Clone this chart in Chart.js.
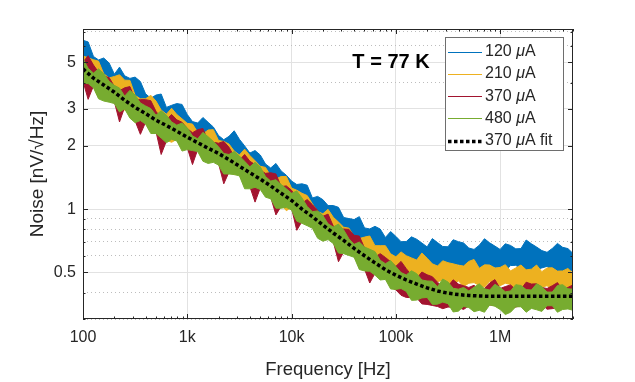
<!DOCTYPE html>
<html>
<head>
<meta charset="utf-8">
<script src="https://cdn.jsdelivr.net/npm/chart.js@4.4.1/dist/chart.umd.min.js"></script>
<style>
  html, body { margin: 0; padding: 0; background: #fff; }
  #wrap { width: 635px; height: 382px; }
</style>
</head>
<body>
<div id="wrap"><canvas id="noise" width="635" height="382"></canvas></div>
<script>
// Частоты спектров, Гц (примерно 20 точек на декаду)
const freq = [100, 112, 126, 141, 158, 178, 200, 224, 251, 282, 316, 355, 398, 447, 501, 562, 631, 708, 794, 891,
  1000, 1122, 1259, 1413, 1585, 1778, 1995, 2239, 2512, 2818, 3162, 3548, 3981, 4467, 5012, 5623, 6310, 7079, 7943, 8913,
  10000, 11220, 12589, 14125, 15849, 17783, 19953, 22387, 25119, 28184, 31623, 35481, 39811, 44668, 50119, 56234, 63096, 70795, 79433, 89125,
  100000, 112202, 125893, 141254, 158489, 177828, 199526, 223872, 251189, 281838, 316228, 354813, 398107, 446684, 501187, 562341, 630957, 707946, 794328, 891251,
  1000000, 1122018, 1258925, 1412538, 1584893, 1778279, 1995262, 2238721, 2511886, 2818383, 3162278, 3548134, 3981072, 4466836, 5000000];

// Шум, nV/√Hz — верхняя и нижняя граница полосы каждого спектра
const blue120Hi = [6.36, 6.25, 5.33, 5.13, 5.24, 4.96, 4.39, 4.74, 4.31, 4.19, 4.25, 4.05, 3.54, 3.37, 3.49, 3.53, 3.05, 3.12, 3.18, 3.15,
  2.82, 2.61, 2.57, 2.73, 2.59, 2.46, 2.24, 2.14, 2.22, 2.36, 2.15, 2.0, 1.85, 1.90, 1.81, 1.64, 1.57, 1.65, 1.52, 1.45,
  1.36, 1.31, 1.32, 1.30, 1.13, 1.15, 1.11, 1.04, 1.04, 1.02, 0.912, 0.902, 0.892, 0.921, 0.814, 0.805, 0.828, 0.804, 0.733, 0.782,
  0.742, 0.700, 0.701, 0.738, 0.719, 0.690, 0.661, 0.724, 0.693, 0.664, 0.662, 0.715, 0.700, 0.690, 0.653, 0.643, 0.673, 0.723, 0.691, 0.667,
  0.643, 0.684, 0.672, 0.647, 0.649, 0.713, 0.684, 0.660, 0.635, 0.623, 0.650, 0.687, 0.658, 0.649, 0.615];
const blue120Lo = [4.47, 4.06, 4.16, 4.03, 3.67, 3.51, 3.64, 3.15, 3.20, 3.11, 2.90, 2.79, 2.85, 2.81, 2.55, 2.34, 2.48, 2.35, 2.21, 2.08,
  2.16, 2.19, 2.09, 1.85, 1.85, 1.80, 1.82, 1.81, 1.67, 1.47, 1.50, 1.50, 1.49, 1.35, 1.33, 1.34, 1.28, 1.12, 1.13, 1.10,
  1.09, 1.05, 0.960, 0.883, 0.918, 0.839, 0.812, 0.825, 0.789, 0.737, 0.762, 0.722, 0.681, 0.626, 0.666, 0.652, 0.613, 0.597, 0.618, 0.562,
  0.578, 0.593, 0.573, 0.533, 0.538, 0.551, 0.563, 0.510, 0.534, 0.541, 0.526, 0.509, 0.545, 0.526, 0.529, 0.539, 0.518, 0.496, 0.538, 0.529,
  0.520, 0.508, 0.539, 0.540, 0.520, 0.478, 0.507, 0.516, 0.525, 0.534, 0.511, 0.481, 0.502, 0.498, 0.514];

const yellow210Hi = [5.36, 5.25, 5.14, 5.06, 4.41, 4.21, 4.28, 4.36, 4.11, 4.10, 3.48, 3.35, 3.35, 3.48, 3.27, 2.96, 2.83, 3.02, 2.82, 2.69,
  2.56, 2.54, 2.32, 2.28, 2.38, 2.39, 2.12, 2.10, 2.04, 1.89, 1.81, 1.93, 1.80, 1.70, 1.60, 1.58, 1.44, 1.39, 1.43, 1.43,
  1.26, 1.23, 1.19, 1.16, 1.06, 0.975, 0.950, 0.998, 0.915, 0.868, 0.820, 0.812, 0.742, 0.724, 0.736, 0.745, 0.670, 0.670, 0.670, 0.613,
  0.593, 0.626, 0.600, 0.586, 0.572, 0.618, 0.584, 0.549, 0.536, 0.568, 0.556, 0.549, 0.541, 0.536, 0.564, 0.576, 0.523, 0.543, 0.542, 0.524,
  0.528, 0.544, 0.508, 0.525, 0.542, 0.514, 0.518, 0.542, 0.504, 0.525, 0.526, 0.507, 0.508, 0.522, 0.495];
const yellow210Lo = [4.13, 4.07, 3.85, 3.39, 3.36, 3.37, 3.37, 2.94, 2.96, 2.89, 2.66, 2.54, 2.64, 2.35, 2.36, 2.29, 2.13, 2.08, 2.15, 1.92,
  1.98, 1.96, 1.94, 1.73, 1.70, 1.74, 1.67, 1.50, 1.53, 1.46, 1.48, 1.41, 1.28, 1.19, 1.27, 1.19, 1.16, 1.14, 1.05, 0.983,
  1.02, 0.916, 0.889, 0.883, 0.843, 0.740, 0.732, 0.727, 0.721, 0.685, 0.692, 0.607, 0.613, 0.615, 0.592, 0.542, 0.537, 0.538, 0.538, 0.486,
  0.495, 0.503, 0.491, 0.458, 0.463, 0.471, 0.478, 0.437, 0.452, 0.458, 0.437, 0.433, 0.456, 0.428, 0.444, 0.447, 0.433, 0.425, 0.452, 0.438,
  0.432, 0.444, 0.438, 0.407, 0.418, 0.432, 0.437, 0.414, 0.425, 0.432, 0.414, 0.410, 0.432, 0.401, 0.413];

const red370Hi = [5.01, 5.37, 4.85, 4.48, 4.29, 4.23, 3.84, 3.66, 3.78, 3.83, 3.32, 3.32, 3.32, 3.28, 2.92, 2.71, 2.67, 2.82, 2.66, 2.59,
  2.42, 2.31, 2.39, 2.42, 2.10, 2.08, 2.06, 2.10, 1.97, 1.78, 1.71, 1.82, 1.69, 1.63, 1.53, 1.48, 1.49, 1.47, 1.28, 1.29,
  1.23, 1.12, 1.07, 1.11, 1.05, 0.987, 0.924, 0.947, 0.830, 0.801, 0.804, 0.801, 0.751, 0.744, 0.653, 0.604, 0.592, 0.614, 0.589, 0.562,
  0.534, 0.564, 0.521, 0.485, 0.469, 0.502, 0.487, 0.477, 0.449, 0.426, 0.429, 0.461, 0.440, 0.432, 0.424, 0.434, 0.411, 0.419, 0.445, 0.462,
  0.419, 0.428, 0.436, 0.413, 0.415, 0.449, 0.440, 0.441, 0.424, 0.419, 0.432, 0.447, 0.411, 0.424, 0.436];
const red370Lo = [4.06, 3.33, 3.86, 3.42, 3.34, 3.29, 3.24, 2.60, 3.06, 2.76, 2.63, 2.27, 2.59, 2.34, 2.34, 1.82, 2.11, 2.19, 2.15, 1.93,
  1.96, 1.63, 1.92, 1.72, 1.68, 1.70, 1.65, 1.32, 1.50, 1.49, 1.47, 1.28, 1.28, 1.08, 1.26, 1.16, 1.14, 0.939, 1.03, 1.04,
  1.01, 0.793, 0.873, 0.851, 0.827, 0.742, 0.718, 0.730, 0.700, 0.562, 0.626, 0.614, 0.602, 0.526, 0.518, 0.445, 0.495, 0.469, 0.472, 0.425,
  0.413, 0.389, 0.380, 0.379, 0.378, 0.354, 0.352, 0.348, 0.344, 0.336, 0.342, 0.341, 0.340, 0.333, 0.347, 0.342, 0.336, 0.336, 0.350, 0.347,
  0.343, 0.329, 0.336, 0.342, 0.347, 0.337, 0.340, 0.347, 0.353, 0.334, 0.336, 0.340, 0.343, 0.338, 0.347];

const green480Hi = [5.21, 4.68, 4.44, 4.65, 4.41, 4.06, 3.88, 3.77, 3.45, 3.68, 3.49, 3.20, 3.10, 3.01, 2.80, 2.94, 2.80, 2.60, 2.51, 2.57,
  2.44, 2.23, 2.16, 2.32, 2.21, 2.10, 1.98, 1.84, 1.82, 1.88, 1.79, 1.69, 1.59, 1.67, 1.59, 1.43, 1.36, 1.38, 1.31, 1.25,
  1.19, 1.22, 1.13, 1.03, 0.972, 0.981, 0.933, 0.851, 0.822, 0.849, 0.796, 0.723, 0.680, 0.697, 0.660, 0.644, 0.628, 0.571, 0.550, 0.569,
  0.533, 0.499, 0.486, 0.509, 0.493, 0.460, 0.455, 0.454, 0.427, 0.465, 0.450, 0.420, 0.416, 0.424, 0.408, 0.425, 0.441, 0.418, 0.412, 0.439,
  0.424, 0.404, 0.408, 0.437, 0.433, 0.414, 0.412, 0.441, 0.428, 0.403, 0.403, 0.433, 0.437, 0.418, 0.416];
const green480Lo = [3.98, 3.96, 3.78, 3.35, 3.27, 3.23, 3.18, 2.90, 3.00, 2.71, 2.58, 2.64, 2.54, 2.29, 2.29, 2.18, 2.07, 2.15, 2.11, 1.89,
  1.92, 1.90, 1.88, 1.69, 1.65, 1.67, 1.62, 1.47, 1.47, 1.46, 1.44, 1.25, 1.25, 1.27, 1.24, 1.14, 1.12, 1.01, 1.01, 1.02,
  0.990, 0.877, 0.856, 0.834, 0.811, 0.727, 0.704, 0.716, 0.686, 0.618, 0.614, 0.602, 0.590, 0.516, 0.508, 0.506, 0.485, 0.460, 0.463, 0.417,
  0.415, 0.419, 0.406, 0.368, 0.369, 0.378, 0.380, 0.352, 0.353, 0.361, 0.355, 0.324, 0.327, 0.344, 0.340, 0.325, 0.330, 0.323, 0.350, 0.345,
  0.333, 0.315, 0.323, 0.343, 0.343, 0.323, 0.337, 0.332, 0.326, 0.347, 0.347, 0.323, 0.333, 0.335, 0.330];

// Аппроксимация для 370 µA (10 точек на декаду)
const fitFreq = [100, 126, 158, 200, 251, 316, 398, 501, 631, 794,
  1000, 1259, 1585, 1995, 2512, 3162, 3981, 5012, 6310, 7943,
  10000, 12589, 15849, 19953, 25119, 31623, 39811, 50119, 63096, 79433,
  100000, 125893, 158489, 199526, 251189, 316228, 398107, 501187, 630957, 794328,
  1000000, 1258925, 1584893, 1995262, 2511886, 3162278, 3981072, 5000000];
const fit370 = [4.65, 4.2, 3.9, 3.6, 3.3, 3.05, 2.85, 2.65, 2.5, 2.35,
  2.2, 2.07, 1.95, 1.84, 1.72, 1.6, 1.49, 1.39, 1.29, 1.19,
  1.1, 1.0, 0.92, 0.84, 0.77, 0.71, 0.65, 0.6, 0.555, 0.515,
  0.485, 0.46, 0.44, 0.422, 0.408, 0.398, 0.392, 0.388, 0.386, 0.385,
  0.385, 0.385, 0.385, 0.385, 0.385, 0.385, 0.385, 0.385];

// Подписи осей
const xMajorTicks = [100, 1e3, 1e4, 1e5, 1e6];
const xMajorLabels = ['100', '1k', '10k', '100k', '1M'];
const yMajorTicks = [0.5, 1, 2, 3, 5];
const yMinorTicks = [0.3, 0.4, 0.6, 0.7, 0.8, 0.9, 4, 6, 7];

const currents = ['120', '210', '370', '480'];
const colors = ['#0072BD', '#EDB120', '#A2142F', '#77AC30'];

const xTicks = [];
xMajorTicks.forEach(d => {
  for (let k = 1; k <= 9; k++) if (d * k <= 5e6) xTicks.push(d * k);
});
const yTicks = [...yMajorTicks, ...yMinorTicks].sort((a, b) => a - b);

const pts = (xs, ys) => ys.map((v, i) => ({ x: xs[i], y: v }));

// Полоса шума: верх заливается до низа
function band(hi, lo, color) {
  return [
    { data: pts(freq, hi), borderColor: color, backgroundColor: color, borderWidth: 1, fill: '+1' },
    { data: pts(freq, lo), borderColor: color, borderWidth: 1, fill: false }
  ];
}

// Первый датасет рисуется поверх остальных
const datasets = [
  { data: pts(fitFreq, fit370), borderColor: '#000', borderWidth: 3.5, borderDash: [3.5, 2.5], fill: false },
  ...band(green480Hi, green480Lo, colors[3]),
  ...band(red370Hi, red370Lo, colors[2]),
  ...band(yellow210Hi, yellow210Lo, colors[1]),
  ...band(blue120Hi, blue120Lo, colors[0])
];

const ink = '#262626';

// Рамка и внутренние засечки как в MATLAB
const axesBox = {
  id: 'axesBox',
  afterDatasetsDraw(chart) {
    const { ctx, chartArea: a, scales: { x, y } } = chart;
    ctx.save();
    ctx.strokeStyle = ink;
    ctx.lineWidth = 1;
    ctx.beginPath();
    xTicks.forEach(v => {
      const px = Math.round(x.getPixelForValue(v)) + 0.5;
      const len = xMajorTicks.includes(v) ? 5 : 2.5;
      ctx.moveTo(px, a.bottom); ctx.lineTo(px, a.bottom - len);
      ctx.moveTo(px, a.top); ctx.lineTo(px, a.top + len);
    });
    yTicks.forEach(v => {
      const py = Math.round(y.getPixelForValue(v)) + 0.5;
      const len = yMajorTicks.includes(v) ? 5 : 2.5;
      ctx.moveTo(a.left, py); ctx.lineTo(a.left + len, py);
      ctx.moveTo(a.right, py); ctx.lineTo(a.right - len, py);
    });
    ctx.stroke();
    ctx.strokeRect(a.left + 0.5, a.top + 0.5, a.right - a.left - 1, a.bottom - a.top - 1);
    ctx.restore();
  }
};

// Легенда и надпись температуры
const overlay = {
  id: 'overlay',
  afterDraw(chart) {
    const { ctx } = chart;
    ctx.save();
    ctx.fillStyle = '#000';
    ctx.font = 'bold 20px "Liberation Sans", Arial, sans-serif';
    ctx.textAlign = 'center';
    ctx.textBaseline = 'middle';
    ctx.fillText('T = 77 K', 391, 62);

    const bx = 445, by = 37, bw = 118, bh = 113;
    ctx.fillStyle = '#fff';
    ctx.fillRect(bx, by, bw, bh);
    ctx.strokeStyle = '#6e6e6e';
    ctx.lineWidth = 1;
    ctx.strokeRect(bx + 0.5, by + 0.5, bw, bh);

    const rows = currents.map((c, i) => ({ c, color: colors[i], suffix: '' }));
    rows.push({ c: '370', color: '#000', suffix: ' fit', dotted: true });
    ctx.textAlign = 'left';
    rows.forEach((r, i) => {
      const yy = by + 14.5 + i * 22.3;
      ctx.beginPath();
      ctx.strokeStyle = r.color;
      if (r.dotted) { ctx.lineWidth = 3.5; ctx.setLineDash([3.5, 2.5]); }
      else { ctx.lineWidth = 1; ctx.setLineDash([]); }
      ctx.moveTo(448, Math.round(yy) + 0.5);
      ctx.lineTo(482, Math.round(yy) + 0.5);
      ctx.stroke();
      ctx.setLineDash([]);
      let tx = 485;
      ctx.fillStyle = ink;
      ctx.font = '16px "Liberation Sans", Arial, sans-serif';
      ctx.fillText(r.c + ' ', tx, yy);
      tx += ctx.measureText(r.c + ' ').width;
      ctx.font = 'italic 16px "Liberation Sans", Arial, sans-serif';
      ctx.fillText('\u03bc', tx, yy);
      tx += ctx.measureText('\u03bc').width;
      ctx.font = '16px "Liberation Sans", Arial, sans-serif';
      ctx.fillText('A' + r.suffix, tx, yy);
    });
    ctx.restore();
  }
};

Chart.defaults.font.family = '"Liberation Sans", Arial, sans-serif';
Chart.defaults.color = ink;

new Chart(document.getElementById('noise'), {
  type: 'line',
  data: { datasets },
  options: {
    responsive: false,
    animation: false,
    events: [],
    layout: { padding: { top: 29, right: 62, bottom: 0, left: 0 } },
    elements: { point: { radius: 0 }, line: { tension: 0 } },
    plugins: { legend: { display: false }, tooltip: { enabled: false } },
    scales: {
      x: {
        type: 'logarithmic',
        position: 'bottom',
        min: 100,
        max: 5e6,
        afterBuildTicks: s => { s.ticks = xTicks.map(v => ({ value: v })); },
        afterFit: s => { s.height = 63; },
        ticks: {
          autoSkip: false,
          maxRotation: 0,
          padding: 9,
          color: ink,
          font: { size: 16 },
          callback: v => {
            const i = xMajorTicks.indexOf(v);
            return i >= 0 ? xMajorLabels[i] : '';
          }
        },
        grid: {
          drawTicks: false,
          color: c => (c.tick && xMajorTicks.includes(c.tick.value)) ? '#e2e2e2' : 'rgba(0,0,0,0)'
        },
        border: { display: false },
        title: {
          display: true,
          text: 'Frequency [Hz]',
          color: ink,
          font: { size: 18.5 },
          padding: { top: 0, bottom: 1 }
        }
      },
      y: {
        type: 'logarithmic',
        position: 'left',
        min: 0.3,
        max: 7.2,
        afterBuildTicks: s => { s.ticks = yTicks.map(v => ({ value: v })); },
        afterFit: s => { s.width = 83; },
        ticks: {
          autoSkip: false,
          padding: 7,
          color: ink,
          font: { size: 16 },
          callback: v => yMajorTicks.includes(v) ? String(v) : ''
        },
        grid: {
          drawTicks: false,
          color: c => (c.tick && yMajorTicks.includes(c.tick.value)) ? '#e2e2e2' : '#bdbdbd'
        },
        border: {
          display: false,
          dash: c => (c.tick && yMajorTicks.includes(c.tick.value)) ? [] : [1, 3]
        },
        title: {
          display: true,
          text: 'Noise [nV/\u221aHz]',
          color: ink,
          font: { size: 19 },
          padding: { top: 26, bottom: 0 }
        }
      }
    }
  },
  plugins: [axesBox, overlay]
});
</script>
</body>
</html>
